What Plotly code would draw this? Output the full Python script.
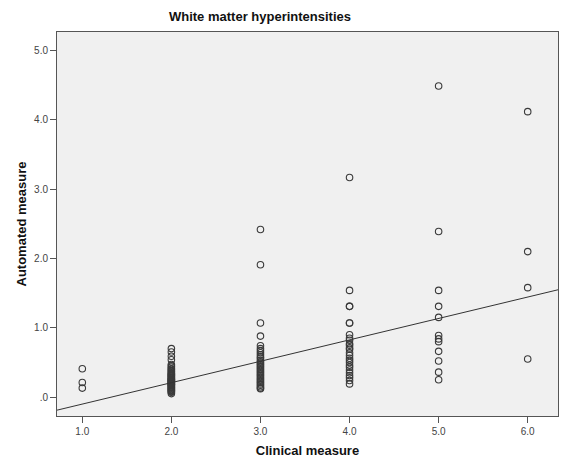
import plotly.graph_objects as go

# Automated white-matter-hyperintensity score grouped by clinical rating
clinical_levels = [1.0, 2.0, 3.0, 4.0, 5.0, 6.0]

auto_at_1 = [0.41, 0.21, 0.13]
auto_at_2 = [0.70, 0.65, 0.59, 0.54, 0.47, 0.45, 0.43, 0.41, 0.40, 0.38, 0.37,
             0.35, 0.34, 0.33, 0.32, 0.31, 0.30, 0.29, 0.28, 0.27, 0.26, 0.25,
             0.25, 0.24, 0.23, 0.22, 0.22, 0.21, 0.20, 0.19, 0.18, 0.18, 0.17,
             0.16, 0.15, 0.14, 0.13, 0.12, 0.11, 0.10, 0.09, 0.08, 0.07, 0.05]
auto_at_3 = [2.42, 1.91, 1.07, 0.88, 0.74, 0.70, 0.67, 0.64, 0.61, 0.58, 0.56,
             0.53, 0.51, 0.49, 0.47, 0.45, 0.43, 0.41, 0.39, 0.37, 0.35, 0.33,
             0.31, 0.29, 0.27, 0.25, 0.23, 0.21, 0.19, 0.17, 0.15, 0.13, 0.12]
auto_at_4 = [3.17, 1.54, 1.31, 1.31, 1.07, 1.07, 0.90, 0.85, 0.82, 0.77, 0.75,
             0.71, 0.69, 0.64, 0.60, 0.56, 0.53, 0.50, 0.46, 0.43, 0.39, 0.35,
             0.31, 0.28, 0.24, 0.19]
auto_at_5 = [4.49, 2.39, 1.54, 1.31, 1.15, 0.89, 0.84, 0.80, 0.66, 0.52, 0.36, 0.25]
auto_at_6 = [4.12, 2.10, 1.58, 0.55]

groups = [auto_at_1, auto_at_2, auto_at_3, auto_at_4, auto_at_5, auto_at_6]

# Linear fit line (intercept, slope)
fit_intercept = -0.41
fit_slope = 0.309

x_ticks = [1, 2, 3, 4, 5, 6]
x_tick_text = ["1.0", "2.0", "3.0", "4.0", "5.0", "6.0"]
y_ticks = [0, 1, 2, 3, 4, 5]
y_tick_text = [".0", "1.0", "2.0", "3.0", "4.0", "5.0"]

x_range = [0.716, 6.34]
y_range = [-0.273, 5.27]

xs, ys = [], []
for level, vals in zip(clinical_levels, groups):
    xs.extend([level] * len(vals))
    ys.extend(vals)

font_family = "Arial, Liberation Sans, sans-serif"

fig = go.Figure()
fig.add_trace(go.Scatter(
    x=xs, y=ys, mode="markers",
    marker=dict(symbol="circle-open", size=6.5, color="#3a3a3a",
                line=dict(width=1.1, color="#3a3a3a")),
    showlegend=False, hoverinfo="x+y",
))
fig.add_trace(go.Scatter(
    x=x_range,
    y=[fit_intercept + fit_slope * v for v in x_range],
    mode="lines", line=dict(color="#333333", width=1),
    showlegend=False, hoverinfo="skip",
))

fig.update_layout(
    width=567, height=463,
    margin=dict(l=57, r=9, t=32, b=47),
    paper_bgcolor="white", plot_bgcolor="#f0f0f0",
    font=dict(family=font_family, size=10, color="#333333"),
    title=dict(text="<b>White matter hyperintensities</b>",
               font=dict(family=font_family, size=13, color="#111111"),
               x=260 / 567, xanchor="center", xref="container",
               y=1 - 16 / 463, yanchor="middle", yref="container"),
    xaxis=dict(range=x_range, tickvals=x_ticks, ticktext=x_tick_text,
               showgrid=False, zeroline=False,
               showline=True, mirror=True, linecolor="#555555", linewidth=1,
               ticks="outside", ticklen=6, tickcolor="#555555",
               tickfont=dict(size=10, color="#444444"),
               title=dict(text="<b>Clinical measure</b>",
                          font=dict(size=13, color="#111111"), standoff=9)),
    yaxis=dict(range=y_range, tickvals=y_ticks, ticktext=y_tick_text,
               showgrid=False, zeroline=False,
               showline=True, mirror=True, linecolor="#555555", linewidth=1,
               ticks="outside", ticklen=6, tickcolor="#555555",
               tickfont=dict(size=10, color="#444444"),
               title=dict(text="<b>Automated measure</b>",
                          font=dict(size=13, color="#111111"), standoff=4)),
)

fig.write_html("out.html")
